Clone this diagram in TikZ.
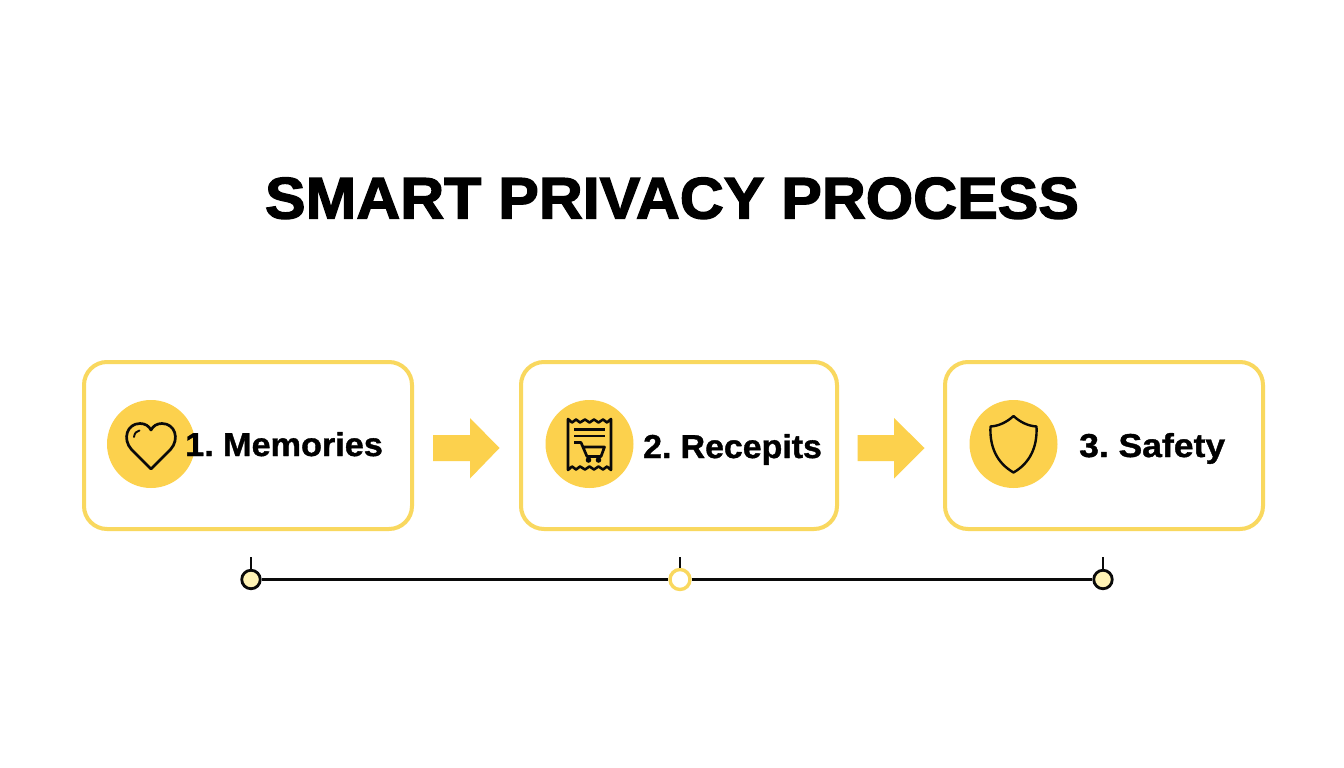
\documentclass[tikz,border=0pt]{standalone}
\usepackage{fontspec}
\setmainfont{Liberation Sans}
\newfontfamily\ttlfont[BoldFeatures={FakeBold=2.2}]{Liberation Sans}
\newfontfamily\lblfont[BoldFeatures={FakeBold=1.1}]{Liberation Sans}
\usetikzlibrary{calc}
\definecolor{fillyel}{HTML}{FCD14D}
\definecolor{lineyel}{HTML}{F9D85F}
\definecolor{paleyel}{HTML}{FFF3B5}
\definecolor{ink}{HTML}{0A0A0A}
\newcommand{\lbltext}[3]{\resizebox{#1pt}{#2pt}{\lblfont\fontsize{33}{35}\selectfont\bfseries #3}}
\tikzset{
  x=1pt,y=-1pt,
  card/.style={draw=lineyel,line width=4pt,rounded corners=23pt,fill=white},
  badge/.style={circle,fill=fillyel,minimum size=88pt,inner sep=0pt},
  blockarrow/.style={fill=fillyel,draw=none},
  icon/.style={draw=ink,line width=2.7pt,line join=round,line cap=round},
  title/.style={anchor=base,inner sep=0pt,text=black},
  lbl/.style={anchor=base west,inner sep=0pt,text=black},
  tl/.style={draw=ink,line width=2.8pt},
  dotA/.style={circle,draw=ink,line width=2.8pt,fill=paleyel,minimum size=18.5pt,inner sep=0pt},
  dotB/.style={circle,draw=lineyel,line width=3.4pt,fill=white,minimum size=20pt,inner sep=0pt},
}
\begin{document}
\begin{tikzpicture}
\useasboundingbox (0,0) rectangle (1344,768);
\fill[white] (0,0) rectangle (1344,768);
\node[title] (ttl) at (672,218.5) {\resizebox{814pt}{41pt}{\ttlfont\fontsize{58}{60}\selectfont\bfseries SMART PRIVACY PROCESS}};
% cards
\draw[card] (84,362) rectangle (412,529);
\draw[card] (521,362) rectangle (837,529);
\draw[card] (945,362) rectangle (1263,529);
% badges
\node[badge] (b1) at (151,444) {};
\node[badge] (b2) at (589.5,444) {};
\node[badge] (b3) at (1013.5,444) {};
% heart
\draw[icon] (151,469) -- (131.5,449.5) .. controls (122,439) and (127,423.5) .. (140,423.5) .. controls (145,423.5) and (149,426) .. (151,430) .. controls (153,426) and (157,423.5) .. (162,423.5) .. controls (175,423.5) and (180,439) .. (170.5,449.5) -- cycle;
\draw[icon,line width=1.9pt] (134,437) .. controls (134.5,433) and (136.5,431) .. (139.5,430.5);
% receipt
\draw[icon,line width=2.6pt] (568,419) -- (568,470) -- (572,466.5) -- (576,469.5) -- (580,466.5) -- (585,469.5) -- (589.5,466.5) -- (594,469.5) -- (598.5,466.5) -- (603,469.5) -- (607,466.5) -- (611,470) -- (611,419) -- (607,422.5) -- (603,419.5) -- (598.5,422.5) -- (594,419.5) -- (589.5,422.5) -- (585,419.5) -- (580,422.5) -- (576,419.5) -- (572,422.5) -- cycle;
\draw[icon,line cap=butt] (574,429.5) -- (605,429.5);
\draw[icon,line cap=butt] (574,436) -- (605,436);
\draw[icon,line cap=butt] (574,442.5) -- (581,442.5) -- (587,456.5) -- (601,456.5) -- (604.5,447) -- (583,447);
\fill[ink] (588.5,460) circle (2.8pt) (598.5,460) circle (2.8pt);
% shield
\draw[icon,line width=2.4pt] (1013.5,416) .. controls (1020,422) and (1028,426) .. (1036.5,426.5) .. controls (1037.5,447) and (1030,463) .. (1013.5,472.5) .. controls (997,463) and (989.5,447) .. (990.5,426.5) .. controls (999,426) and (1007,422) .. (1013.5,416) -- cycle;
% labels
\node[lbl] (l1) at (185,456) {\lbltext{197.7}{24}{1.\hspace{9pt}Memories}};
\node[lbl] (l2) at (643,458) {\lbltext{178.7}{24}{2.\hspace{9pt}Recepits}};
\node[lbl] (l3) at (1079,457) {\lbltext{146}{24}{3.\hspace{9pt}Safety}};
% block arrows
\fill[blockarrow] (433,435) -- (470,435) -- (470,418) -- (499.5,448) -- (470,478.5) -- (470,461) -- (433,461) -- cycle;
\fill[blockarrow] (857.5,435) -- (894,435) -- (894,418) -- (924.5,448) -- (894,478.5) -- (894,461) -- (857.5,461) -- cycle;
% timeline
\node[dotA] (t1) at (251,579.5) {};
\node[dotB] (t2) at (680,579.5) {};
\node[dotA] (t3) at (1103,579.5) {};
\coordinate (u1) at (251,557);
\coordinate (u2) at (680,557);
\coordinate (u3) at (1103,557);
\draw[tl] (t1) -- (t2);
\draw[tl] (t2) -- (t3);
\draw[tl] (t1) -- (u1);
\draw[tl] (t2) -- (u2);
\draw[tl] (t3) -- (u3);
\end{tikzpicture}
\end{document}
